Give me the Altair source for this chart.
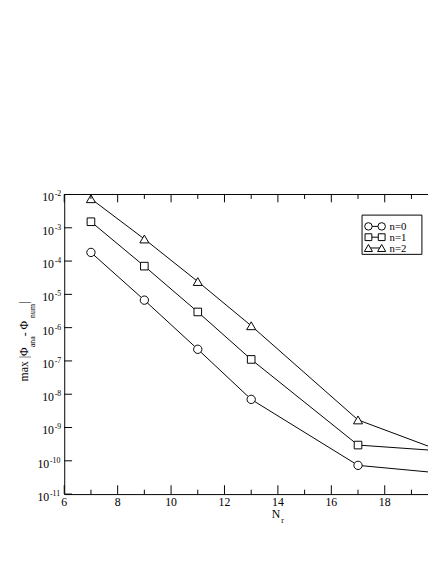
import altair as alt
import pandas as pd

# ---- data ----
Nr = [7, 9, 11, 13, 17, 21]
err_n0 = [1.82e-4, 6.7e-6, 2.24e-7, 7.0e-9, 7.3e-11, 3.65e-11]
err_n1 = [1.52e-3, 7.05e-5, 2.96e-6, 1.11e-7, 2.97e-10, 1.77e-10]
err_n2 = [7.47e-3, 4.6e-4, 2.43e-5, 1.14e-6, 1.69e-9, 1.07e-10]
series = ["n=0", "n=1", "n=2"]
shapes = ["circle", "square", "triangle-up"]
sizes = [72, 60, 85]

x_major = [6, 8, 10, 12, 14, 16, 18]
x_minor = [7, 9, 11, 13, 15, 17, 19]
y_exps_1 = [-2, -3, -4, -5, -6, -7, -8, -9]
y_exps_2 = [-10, -11]

FONT = "Liberation Serif"
W = 370.7
H = 305.3

xscale = alt.Scale(domain=[6, 19.62], nice=False, zero=False)
yscale = alt.Scale(type="log", domain=[1e-11, 1e-2], nice=False)
xaxis = alt.Axis(labels=False, ticks=False, grid=False, domain=True,
                 domainColor="black", domainWidth=1, title=None)
yaxis = alt.Axis(labels=False, ticks=False, grid=False, domain=True,
                 domainColor="black", domainWidth=1, title=None)


def X(field="x"):
    return alt.X(f"{field}:Q", scale=xscale, axis=xaxis)


def Y(field="y"):
    return alt.Y(f"{field}:Q", scale=yscale, axis=yaxis)


one = pd.DataFrame({"a": [0]})
layers = []

# data lines and markers
for s, vals, shp, sz in zip(series, [err_n0, err_n1, err_n2], shapes, sizes):
    d = pd.DataFrame({"x": Nr, "y": vals})
    layers.append(alt.Chart(d).mark_line(color="black", strokeWidth=1, clip=True)
                  .encode(x=X(), y=Y()))
for s, vals, shp, sz in zip(series, [err_n0, err_n1, err_n2], shapes, sizes):
    d = pd.DataFrame({"x": Nr, "y": vals})
    layers.append(alt.Chart(d).mark_point(shape=shp, size=sz, filled=True, fill="white",
                                          stroke="black", strokeWidth=1, opacity=1,
                                          clip=True)
                  .encode(x=X(), y=Y()))

# frame: top line
layers.append(alt.Chart(one).mark_rule(color="black", strokeWidth=1)
              .encode(x=alt.value(0), x2=alt.value(W), y=alt.value(0)))

# inward ticks
dmaj = pd.DataFrame({"x": x_major})
dmin = pd.DataFrame({"x": x_minor})
layers.append(alt.Chart(dmaj).mark_rule(color="black").encode(
    x=X(), y=alt.value(H), y2=alt.value(H - 9)))
layers.append(alt.Chart(dmaj).mark_rule(color="black").encode(
    x=X(), y=alt.value(0), y2=alt.value(8)))
layers.append(alt.Chart(dmin).mark_rule(color="black").encode(
    x=X(), y=alt.value(H), y2=alt.value(H - 4.5)))
layers.append(alt.Chart(dmin).mark_rule(color="black").encode(
    x=X(), y=alt.value(0), y2=alt.value(4.5)))
dy_all = pd.DataFrame({"y": [10.0 ** e for e in y_exps_1 + y_exps_2]})
layers.append(alt.Chart(dy_all).mark_rule(color="black").encode(
    y=Y(), x=alt.value(0), x2=alt.value(8)))

# x tick labels
dxl = pd.DataFrame({"x": x_major, "t": [str(v) for v in x_major]})
layers.append(alt.Chart(dxl).mark_text(font=FONT, fontSize=12, color="black",
                                       align="center", baseline="alphabetic")
              .encode(x=X(), y=alt.value(H + 12.3), text="t:N"))

# y tick labels 10^e
for exps, xr in [(y_exps_1, -10.5), (y_exps_2, -15.3)]:
    d = pd.DataFrame({"y": [10.0 ** e for e in exps], "e": [str(e) for e in exps]})
    layers.append(alt.Chart(d).mark_text(font=FONT, fontSize=12, color="black",
                                         align="right", baseline="alphabetic", dy=7)
                  .encode(y=Y(), x=alt.value(xr), text=alt.value("10")))
    layers.append(alt.Chart(d).mark_text(font=FONT, fontSize=8, color="black",
                                         align="left", baseline="alphabetic", dy=2)
                  .encode(y=Y(), x=alt.value(xr + 0.8), text="e:N"))

# x title N_r
dtitle = pd.DataFrame({"x": [14]})
layers.append(alt.Chart(dtitle).mark_text(font=FONT, fontSize=12, color="black",
                                          align="right", baseline="alphabetic", dx=2.3)
              .encode(x=X(), y=alt.value(H + 24.2), text=alt.value("N")))
layers.append(alt.Chart(dtitle).mark_text(font=FONT, fontSize=8, color="black",
                                          align="left", baseline="alphabetic", dx=3.3)
              .encode(x=X(), y=alt.value(H + 29), text=alt.value("r")))

# y title  max |Φ_ana - Φ_num|  (rotated, pieces with subscripts)
y0 = 190.5
pieces = [
    ("max |\u03a6", 12, -37.0, 0.0),
    ("ana", 8, -29.3, 34.9),
    ("\u00a0-\u00a0\u03a6", 12, -37.0, 34.9 + 11.1),
    ("num", 8, -29.3, 34.9 + 11.1 + 18.7),
    ("|", 12, -37.0, 34.9 + 11.1 + 18.7 + 14.2),
]
for txt, fs, xb, off in pieces:
    layers.append(alt.Chart(one).mark_text(font=FONT, fontSize=fs, color="black",
                                           align="left", baseline="alphabetic", angle=270)
                  .encode(x=alt.value(xb), y=alt.value(y0 - off), text=alt.value(txt)))

# legend
bx0, bx1, by0, by1 = 303.5, 364.5, 21.0, 61.0
layers.append(alt.Chart(one).mark_rect(fill="white", stroke="black", strokeWidth=1)
              .encode(x=alt.value(bx0), x2=alt.value(bx1), y=alt.value(by0), y2=alt.value(by1)))
for i, (s, shp, sz) in enumerate(zip(series, shapes, sizes)):
    ry = 32.5 + 11 * i
    lx0, lx1 = 310.0, 323.5
    layers.append(alt.Chart(one).mark_rule(color="black", strokeWidth=1)
                  .encode(x=alt.value(lx0), x2=alt.value(lx1), y=alt.value(ry)))
    for px in (lx0, lx1):
        layers.append(alt.Chart(one).mark_point(shape=shp, size=sz * 0.8, filled=True,
                                                fill="white", stroke="black",
                                                strokeWidth=1, opacity=1)
                      .encode(x=alt.value(px), y=alt.value(ry)))
    layers.append(alt.Chart(one).mark_text(font=FONT, fontSize=11, color="black",
                                           align="left", baseline="alphabetic")
                  .encode(x=alt.value(331.5), y=alt.value(ry + 3.8), text=alt.value(s)))

chart = alt.layer(*layers).properties(
    width=W, height=H,
    autosize=alt.AutoSizeParams(type="none"),
    padding={"left": 57.3, "top": 185, "right": 0, "bottom": 40},
).configure_view(stroke=None)

chart.save("out.html", embed_options={"renderer": "svg", "actions": False})
